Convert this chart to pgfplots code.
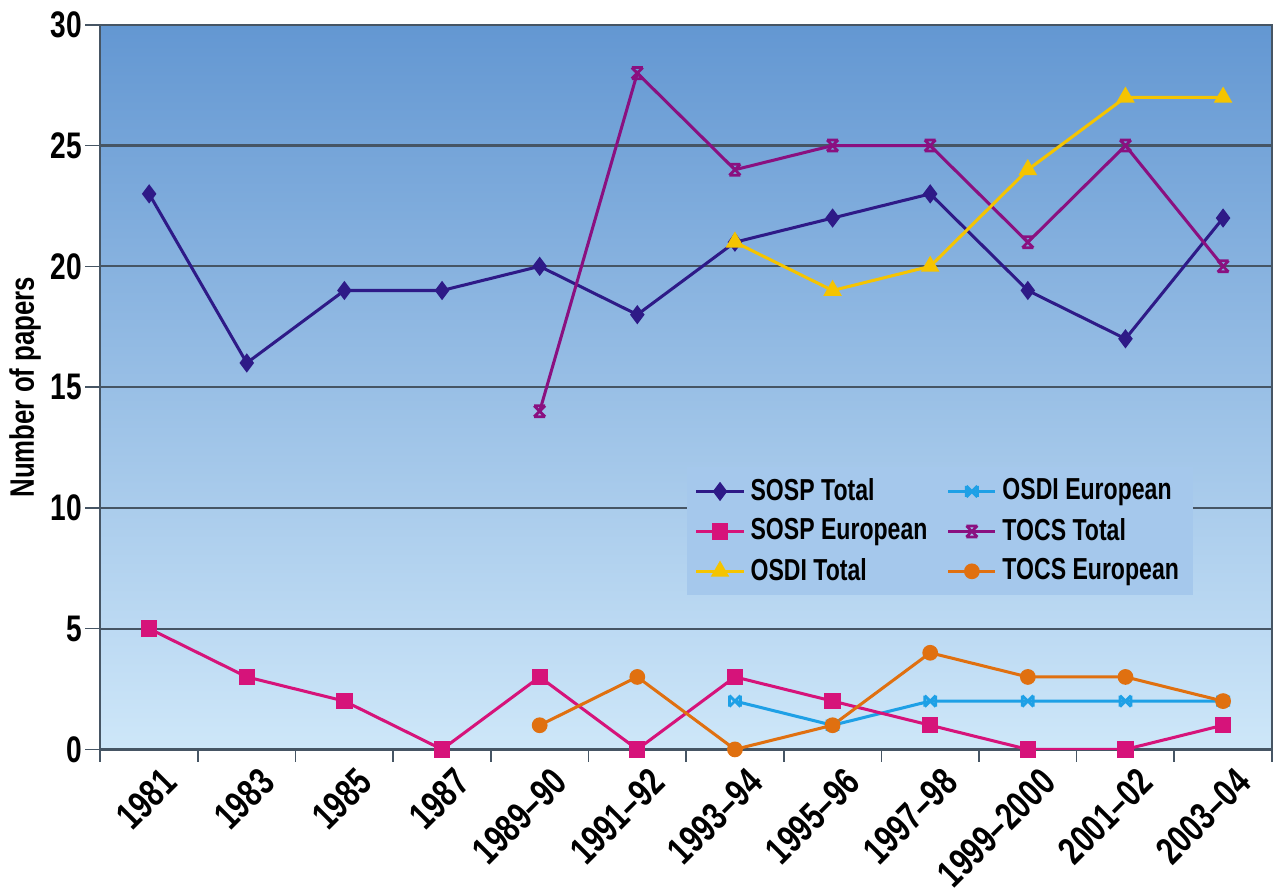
\documentclass[border=0pt]{standalone}
\usepackage{fontspec}
\setmainfont{Liberation Sans}[FakeStretch=0.76]
\usepackage{pgfplots}
\pgfplotsset{compat=1.18}
\definecolor{bgtop}{RGB}{99,151,210}
\definecolor{bgbot}{RGB}{206,231,249}
\definecolor{legbg}{RGB}{165,200,236}
\definecolor{gridc}{RGB}{70,85,100}
\definecolor{sospT}{RGB}{46,26,135}
\definecolor{sospE}{RGB}{214,19,122}
\definecolor{osdiT}{RGB}{245,196,0}
\definecolor{osdiE}{RGB}{30,160,230}
\definecolor{tocsT}{RGB}{138,16,128}
\definecolor{tocsE}{RGB}{224,112,16}
\pgfdeclareplotmark{hourglass}{%
 \pgfpathmoveto{\pgfqpoint{-\pgfplotmarksize}{\pgfplotmarksize}}%
 \pgfpathlineto{\pgfqpoint{\pgfplotmarksize}{-\pgfplotmarksize}}%
 \pgfpathmoveto{\pgfqpoint{\pgfplotmarksize}{\pgfplotmarksize}}%
 \pgfpathlineto{\pgfqpoint{-\pgfplotmarksize}{-\pgfplotmarksize}}%
 \pgfpathmoveto{\pgfqpoint{-\pgfplotmarksize}{\pgfplotmarksize}}%
 \pgfpathlineto{\pgfqpoint{\pgfplotmarksize}{\pgfplotmarksize}}%
 \pgfpathmoveto{\pgfqpoint{-\pgfplotmarksize}{-\pgfplotmarksize}}%
 \pgfpathlineto{\pgfqpoint{\pgfplotmarksize}{-\pgfplotmarksize}}%
 \pgfusepathqstroke}
\pgfdeclareplotmark{bowtie}{%
 \pgfpathmoveto{\pgfqpoint{-\pgfplotmarksize}{\pgfplotmarksize}}%
 \pgfpathlineto{\pgfqpoint{\pgfplotmarksize}{-\pgfplotmarksize}}%
 \pgfpathmoveto{\pgfqpoint{\pgfplotmarksize}{\pgfplotmarksize}}%
 \pgfpathlineto{\pgfqpoint{-\pgfplotmarksize}{-\pgfplotmarksize}}%
 \pgfpathmoveto{\pgfqpoint{-\pgfplotmarksize}{\pgfplotmarksize}}%
 \pgfpathlineto{\pgfqpoint{-\pgfplotmarksize}{-\pgfplotmarksize}}%
 \pgfpathmoveto{\pgfqpoint{\pgfplotmarksize}{\pgfplotmarksize}}%
 \pgfpathlineto{\pgfqpoint{\pgfplotmarksize}{-\pgfplotmarksize}}%
 \pgfusepathqstroke}
\begin{document}
\begin{tikzpicture}
\begin{axis}[
  scale only axis, width=424.6pt, height=262.6pt,
  xmin=-0.5, xmax=11.5, ymin=0, ymax=30,
  xtick={0,...,11},
  xticklabels={1981,1983,1985,1987,1989–90,1991–92,1993–94,1995–96,1997–98,1999–2000,2001–02,2003–04},
  major x tick style={draw=none},
  minor xtick={-0.5,0.5,...,11.5},
  minor tick length=4.5pt,
  ytick={0,5,...,30},
  major tick length=5.5pt,
  tick align=outside, tick pos=left,
  tick style={gridc, line width=0.6pt},
  ymajorgrids, grid style={draw=gridc, line width=0.8pt},
  axis line style={gridc, line width=0.6pt},
  axis background/.style={top color=bgtop, bottom color=bgbot},
  /pgf/number format/assume math mode=true,
  yticklabel style={font=\fontsize{13.4}{15}\selectfont\bfseries, inner sep=1pt},
  xticklabel style={font=\fontsize{14}{16}\selectfont\bfseries, rotate=45, anchor=north east, inner sep=1pt, xshift=3.5pt, yshift=-2pt},
  ylabel={Number of papers},
  ylabel style={font=\fontsize{12.3}{14}\selectfont\bfseries, yshift=-1pt},
  legend columns=2,
  legend style={at={(0.5,0.39)}, anchor=north west, draw=none, fill=legbg,
    font=\fontsize{11}{13}\selectfont\bfseries, row sep=1pt,
    /tikz/every even column/.append style={column sep=5pt}},
  legend cell align=left,
  every axis plot/.append style={line width=1.1pt},
]
\addplot[sospT, mark=diamond*, mark size=2.6pt] coordinates {
(0,23)(1,16)(2,19)(3,19)(4,20)(5,18)(6,21)(7,22)(8,23)(9,19)(10,17)(11,22)};
\addlegendentry{SOSP Total}
\addplot[osdiE, mark=bowtie, mark size=2pt, mark options={line width=1pt}] coordinates {
(6,2)(7,1)(8,2)(9,2)(10,2)(11,2)};
\addlegendentry{OSDI European}
\addplot[sospE, mark=square*, mark size=2.4pt] coordinates {
(0,5)(1,3)(2,2)(3,0)(4,3)(5,0)(6,3)(7,2)(8,1)(9,0)(10,0)(11,1)};
\addlegendentry{SOSP European}
\addplot[tocsT, mark=hourglass, mark size=2pt, mark options={line width=1pt}] coordinates {
(4,14)(5,28)(6,24)(7,25)(8,25)(9,21)(10,25)(11,20)};
\addlegendentry{TOCS Total}
\addplot[osdiT, mark=triangle*, mark size=2.8pt] coordinates {
(6,21)(7,19)(8,20)(9,24)(10,27)(11,27)};
\addlegendentry{OSDI Total}
\addplot[tocsE, mark=*, mark size=2.3pt] coordinates {
(4,1)(5,3)(6,0)(7,1)(8,4)(9,3)(10,3)(11,2)};
\addlegendentry{TOCS European}
\end{axis}
\path (current axis.north west) ++(0,9pt) coordinate (padtop);
\path (padtop) -- ++(1pt,0);
\end{tikzpicture}
\end{document}
